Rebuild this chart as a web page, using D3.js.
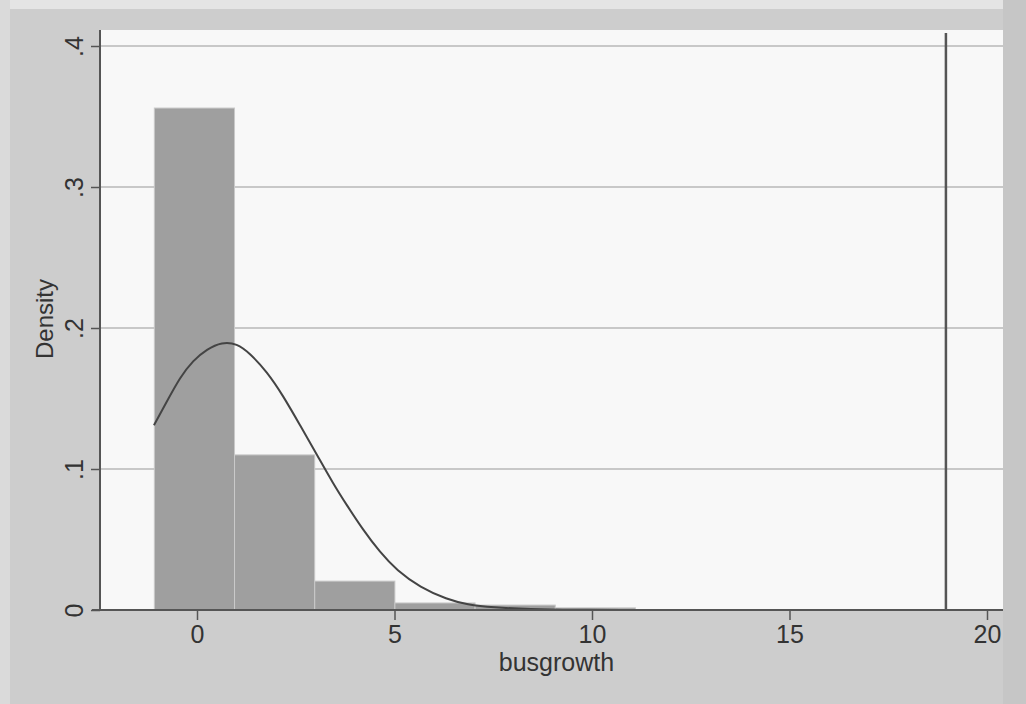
<!DOCTYPE html>
<html>
<head>
<meta charset="utf-8">
<script src="https://cdn.jsdelivr.net/npm/d3@7"></script>
<style>
  body { margin: 0; background: #cdcdcd; }
  svg { display: block; font-family: "Liberation Sans", Arial, sans-serif; }
</style>
</head>
<body>
<svg id="chart" width="1026" height="704"></svg>
<script>
// histogram bins of busgrowth (left edge, right edge, density)
const binStart = [-1.08, 0.95, 2.98, 5.01, 7.04, 9.07]
const binEnd   = [0.95, 2.98, 5.01, 7.04, 9.07, 11.1]
const binDensity = [0.356, 0.110, 0.0205, 0.005, 0.0035, 0.0015]

// overlaid normal density curve
const curveX = [-1.09, -0.76, -0.43, -0.10, 0.25, 0.63, 1.01, 1.34, 1.77, 2.18, 2.61, 3.04, 3.44, 3.80, 4.20, 4.63, 5.06, 5.65, 6.33, 6.84, 7.49, 8.43, 9.5, 11]
const curveY = [0.131, 0.148, 0.165, 0.177, 0.185, 0.190, 0.189, 0.182, 0.169, 0.152, 0.131, 0.110, 0.090, 0.074, 0.057, 0.041, 0.028, 0.016, 0.0075, 0.0038, 0.0018, 0.0006, 0.0001, 0]

const xTicks = [0, 5, 10, 15, 20]
const yTicks = [0, 0.1, 0.2, 0.3, 0.4]
const yTickLabels = ['0', '.1', '.2', '.3', '.4']
const refLineX = 18.96

const svg = d3.select('#chart')
const W = 1026, H = 704
const pLeft = 100, pRight = 1003, pTop = 30, pBottom = 610

// scanned page look: gray surround, lighter edges
svg.append('rect').attr('width', W).attr('height', H).attr('fill', '#cdcdcd')
svg.append('rect').attr('width', W).attr('height', 9).attr('fill', '#e4e4e4')
svg.append('rect').attr('width', 10).attr('height', H).attr('fill', '#dadada')
svg.append('rect').attr('x', pRight).attr('y', 0).attr('width', W - pRight).attr('height', H).attr('fill', '#c6c6c6')

var x = d3.scaleLinear().domain([0, 20]).range([197, 987])
var y = d3.scaleLinear().domain([0, 0.4]).range([pBottom, 46])

// plot region
svg.append('rect')
    .attr('x', pLeft).attr('y', pTop)
    .attr('width', pRight - pLeft).attr('height', pBottom - pTop)
    .attr('fill', '#f8f8f8')

// horizontal grid lines
svg.append('g').selectAll('line')
    .data(yTicks.slice(1))
    .enter()
    .append('line')
    .attr('x1', pLeft).attr('x2', pRight)
    .attr('y1', d => y(d)).attr('y2', d => y(d))
    .style('stroke', '#b9b9b9')
    .style('stroke-width', '1.5px')

// bars
svg.append('g').selectAll('rect')
    .data(binDensity)
    .enter()
    .append('rect')
    .attr('x', (d, i) => x(binStart[i]))
    .attr('width', (d, i) => x(binEnd[i]) - x(binStart[i]))
    .attr('y', d => y(d))
    .attr('height', d => y(0) - y(d))
    .style('fill', '#9f9f9f')
    .style('stroke', '#c9c9c9')
    .style('stroke-width', '1px')

// vertical line on the right
svg.append('line')
    .attr('x1', x(refLineX)).attr('x2', x(refLineX))
    .attr('y1', pTop + 3).attr('y2', pBottom)
    .style('stroke', '#555')
    .style('stroke-width', '2.5px')

// density curve
var line = d3.line()
    .x(d => x(d[0]))
    .y(d => y(d[1]))
    .curve(d3.curveBasis)
svg.append('path')
    .datum(curveX.map((v, i) => [v, curveY[i]]))
    .attr('d', line)
    .style('fill', 'none')
    .style('stroke', '#444')
    .style('stroke-width', '2px')

// x axis
var xAxis = d3.axisBottom(x).tickValues(xTicks).tickSize(10).tickPadding(5)
var gx = svg.append('g').attr('transform', 'translate(0,' + pBottom + ')').call(xAxis)
gx.select('.domain').attr('d', 'M' + (pLeft - 8) + ',0H' + pRight)
    .style('stroke', '#555').style('stroke-width', '2px')
gx.selectAll('.tick line').style('stroke', '#555').style('stroke-width', '1.5px')
gx.selectAll('.tick text')
    .style('font-size', '25px').style('fill', '#333')
    .style('font-family', '"Liberation Sans", Arial, sans-serif')

// y axis with rotated labels
var yAxis = d3.axisLeft(y).tickValues(yTicks).tickSize(9)
    .tickFormat((d, i) => yTickLabels[i])
var gy = svg.append('g').attr('transform', 'translate(' + pLeft + ',0)').call(yAxis)
gy.select('.domain').attr('d', 'M0,' + pTop + 'V' + pBottom)
    .style('stroke', '#555').style('stroke-width', '2px')
gy.selectAll('.tick line').style('stroke', '#555').style('stroke-width', '1.5px')
gy.selectAll('.tick text')
    .attr('x', null).attr('dy', null)
    .attr('transform', 'translate(-17,0) rotate(-90)')
    .attr('text-anchor', 'middle')
    .style('font-size', '25px').style('fill', '#333')
    .style('font-family', '"Liberation Sans", Arial, sans-serif')

// axis titles
svg.append('text')
    .attr('x', (pLeft + pRight) / 2 + 5).attr('y', 671)
    .attr('text-anchor', 'middle')
    .style('font-size', '25px').style('fill', '#333')
    .text('busgrowth')

svg.append('text')
    .attr('transform', 'translate(53,319) rotate(-90)')
    .attr('text-anchor', 'middle')
    .style('font-size', '24px').style('fill', '#333')
    .text('Density')
</script>
</body>
</html>
